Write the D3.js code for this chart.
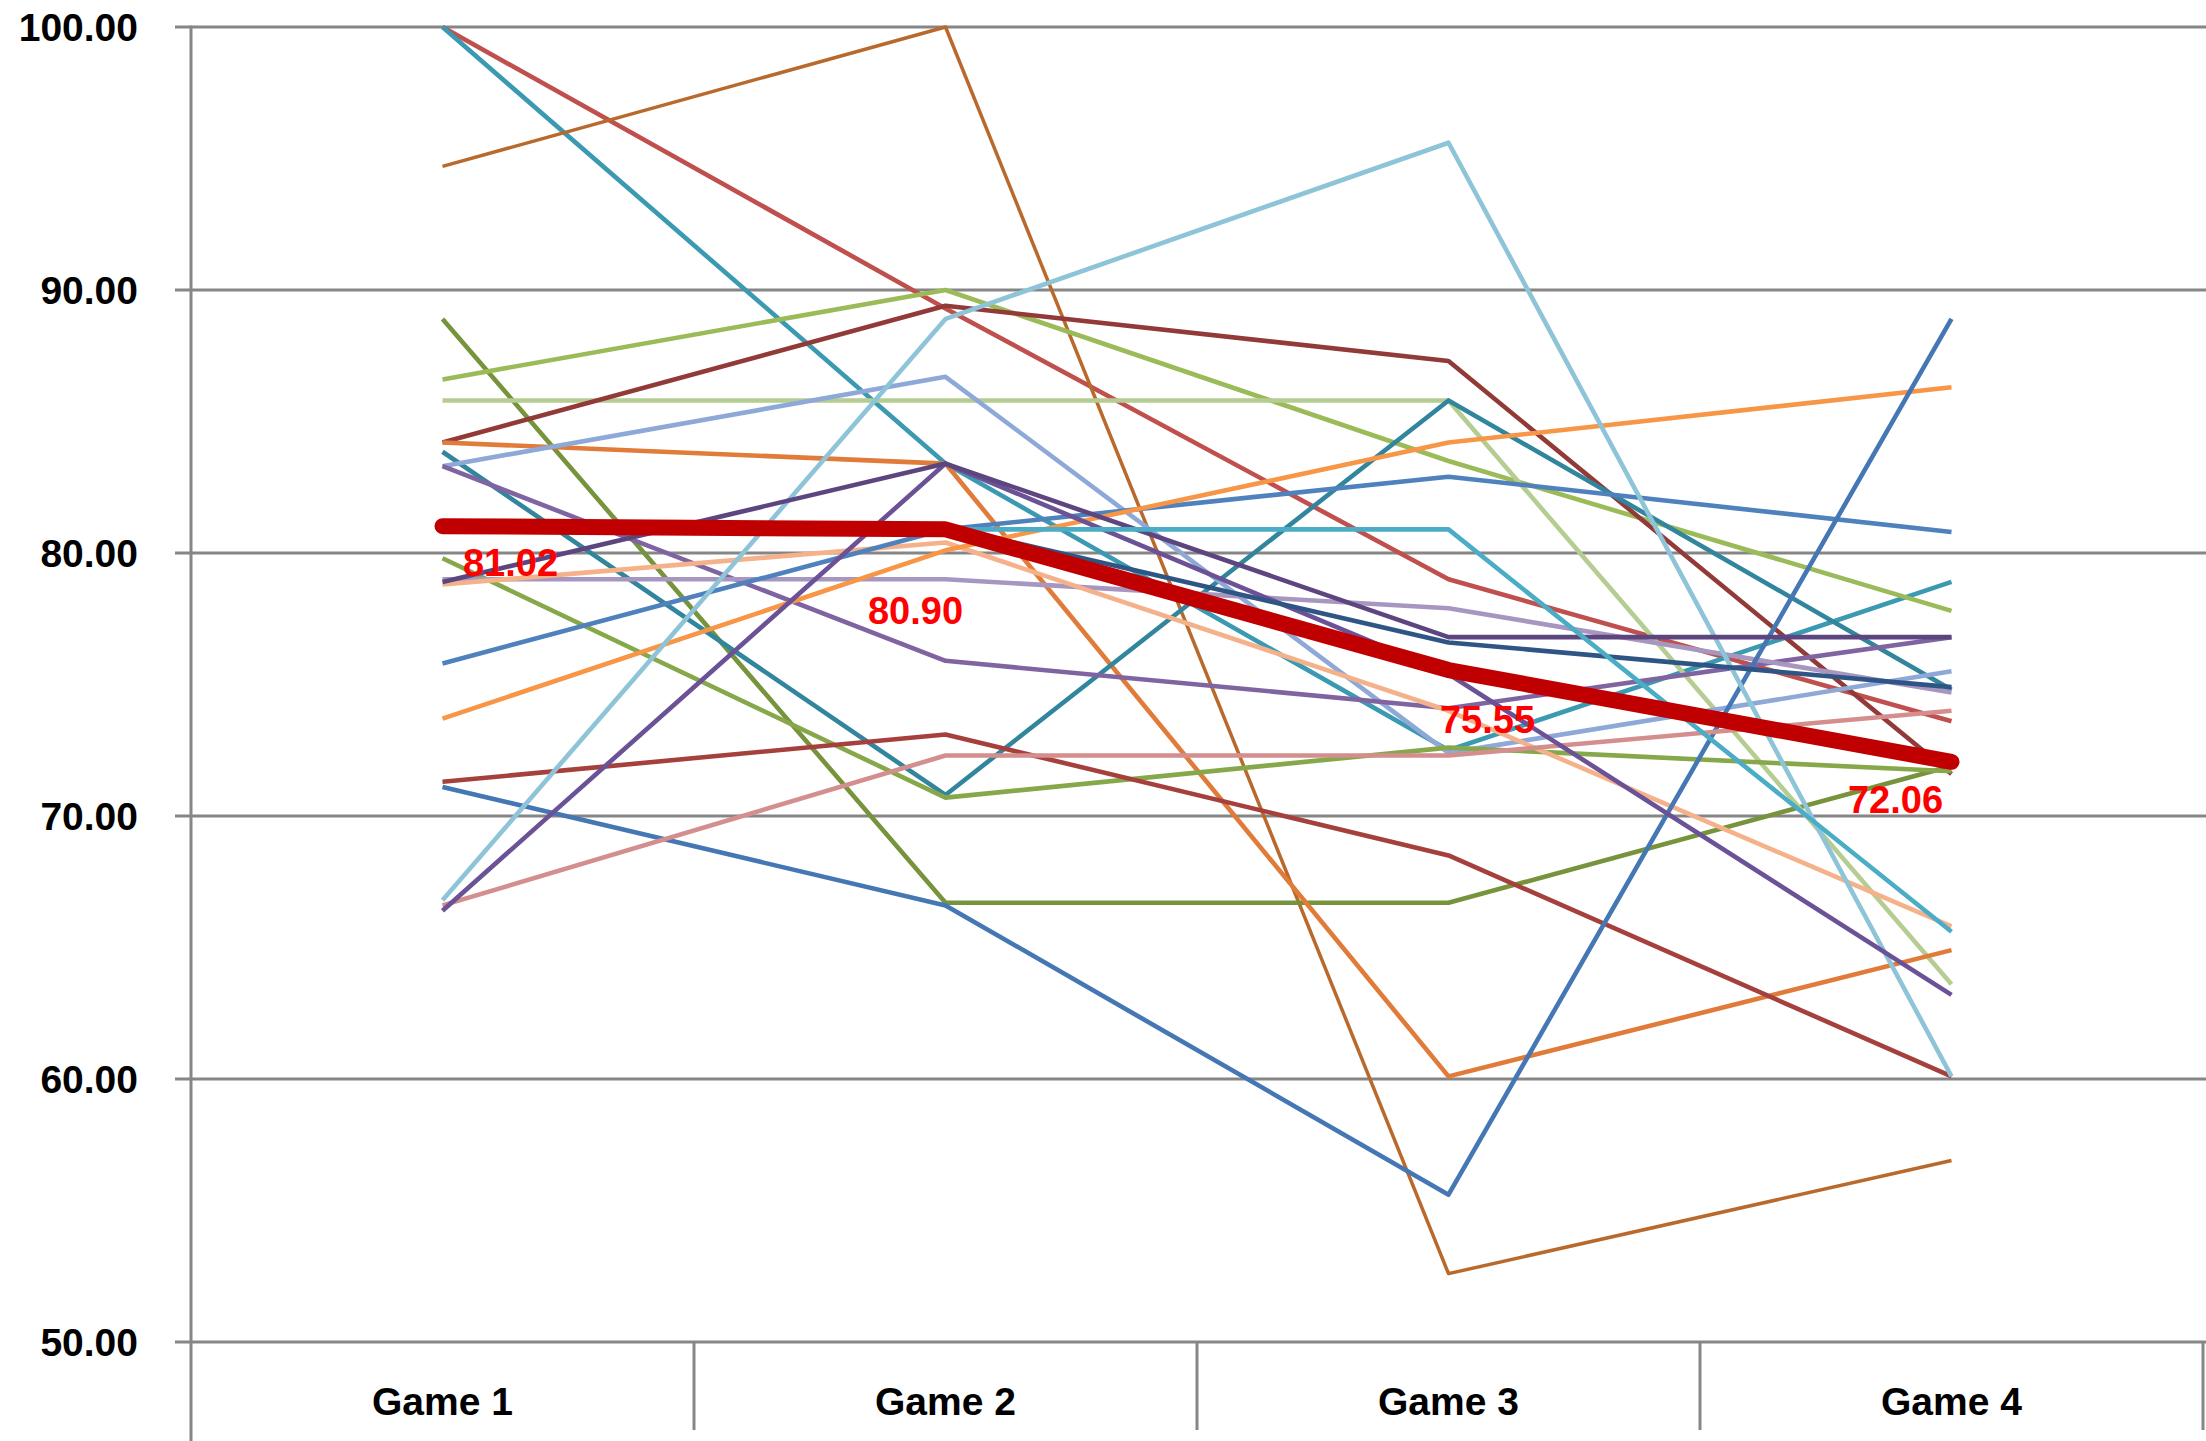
<!DOCTYPE html>
<html>
<head>
<meta charset="utf-8">
<script src="https://cdn.jsdelivr.net/npm/d3@7/dist/d3.min.js"></script>
<style>
  html, body { margin: 0; padding: 0; background: #ffffff; }
  svg { display: block; }
</style>
</head>
<body>
<svg id="chart" width="2206" height="1441"></svg>
<script>
// Categories and axis ticks
const games = ["Game 1", "Game 2", "Game 3", "Game 4"];
const yTicks = [50, 60, 70, 80, 90, 100];

// Individual score series (Game 1 .. Game 4)
const playerScores = [
  [100.0, 89.3, 79.0, 73.6],
  [100.0, 83.4, 72.5, 78.9],
  [94.7, 100.0, 52.6, 56.9],
  [88.9, 66.7, 66.7, 71.9],
  [86.6, 90.0, 83.5, 77.8],
  [85.8, 85.8, 85.8, 63.6],
  [84.2, 89.4, 87.3, 71.6],
  [84.2, 83.4, 60.1, 64.9],
  [83.85, 70.8, 85.8, 74.8],
  [83.3, 86.7, 72.4, 75.5],
  [83.3, 75.9, 74.1, 76.8],
  [79.8, 70.7, 72.6, 71.7],
  [79.0, 79.0, 77.9, 74.7],
  [78.8, 80.4, 74.0, 65.8],
  [75.8, 80.9, 82.9, 80.8],
  [73.7, 80.1, 84.2, 86.3],
  [71.3, 73.1, 68.5, 60.1],
  [71.1, 66.6, 55.6, 88.9],
  [66.8, 88.9, 95.6, 60.1],
  [66.6, 72.3, 72.3, 74.0],
  [66.4, 83.4, 75.4, 63.2],
  [78.9, 83.4, 76.8, 76.8],
  [81.1, 81.0, 76.6, 74.9],
  [81.0, 80.9, 80.9, 65.6]
];

// Class average
const averageScores = [81.02, 80.90, 75.55, 72.06];

const seriesColors = [
  "#C0504D", "#3B9AB2", "#B8692B", "#77933C", "#9BBB59", "#B5CD91",
  "#923A38", "#E07B39", "#31859C", "#8EA9D8", "#8064A2", "#86A84A",
  "#A796C0", "#F5B28A", "#4F81BD", "#F79646", "#A5403D", "#4677B5",
  "#8EC4D8", "#D48E8D", "#6B5196", "#5D4680", "#2F5585", "#4BACC6"
];
const seriesWidths = playerScores.map((d, i) => i === 2 ? 3.5 : 4.6);

const svg = d3.select("#chart");
const W = 2206, H = 1441;
const plot = { left: 191, right: 2203, top: 27, bottom: 1342 };

const x = d3.scaleBand().domain(games).range([plot.left, plot.right]).padding(0);
const y = d3.scaleLinear().domain([50, 100]).range([plot.bottom, plot.top]);
const cx = g => x(g) + x.bandwidth() / 2;

const grid = "#868686";
const font = "'Liberation Sans', Arial, sans-serif";

// Horizontal gridlines with short outward ticks
svg.append("g").selectAll("line").data(yTicks).join("line")
  .attr("x1", 175).attr("x2", W)
  .attr("y1", d => y(d)).attr("y2", d => y(d))
  .attr("stroke", grid).attr("stroke-width", 3);

// Vertical value axis
svg.append("line")
  .attr("x1", plot.left).attr("x2", plot.left)
  .attr("y1", plot.top - 1.5).attr("y2", H)
  .attr("stroke", grid).attr("stroke-width", 3);

// Category separators below the axis
const bounds = games.slice(1).map(g => x(g)).concat([plot.right]);
svg.append("g").selectAll("line").data(bounds).join("line")
  .attr("x1", d => d).attr("x2", d => d)
  .attr("y1", plot.bottom).attr("y2", 1430)
  .attr("stroke", grid).attr("stroke-width", 3);

// Value axis labels
svg.append("g").selectAll("text").data(yTicks).join("text")
  .attr("x", 138).attr("y", d => y(d))
  .attr("text-anchor", "end").attr("dominant-baseline", "central")
  .attr("font-family", font)
  .attr("font-weight", "bold").attr("font-size", 39)
  .attr("fill", "#000")
  .text(d => d3.format(".2f")(d));

// Category labels
svg.append("g").selectAll("text").data(games).join("text")
  .attr("x", d => cx(d)).attr("y", 1401)
  .attr("text-anchor", "middle").attr("dominant-baseline", "central")
  .attr("font-family", font)
  .attr("font-weight", "bold").attr("font-size", 39)
  .attr("fill", "#000")
  .text(d => d);

const line = d3.line()
  .x((d, i) => cx(games[i]))
  .y(d => y(d));

// Individual series
svg.append("g").selectAll("path").data(playerScores).join("path")
  .attr("d", d => line(d))
  .attr("fill", "none")
  .attr("stroke", (d, i) => seriesColors[i])
  .attr("stroke-width", (d, i) => seriesWidths[i])
  .attr("stroke-linejoin", "round");

// Average series
svg.append("path")
  .attr("d", line(averageScores))
  .attr("fill", "none")
  .attr("stroke", "#C00000")
  .attr("stroke-width", 16)
  .attr("stroke-linejoin", "round")
  .attr("stroke-linecap", "round");

// Average value labels, nudged off the line
const labelNudge = [[68, 37], [-30, 82], [39, 50], [-56, 38]];
svg.append("g").selectAll("text").data(averageScores).join("text")
  .attr("x", (d, i) => cx(games[i]) + labelNudge[i][0])
  .attr("y", (d, i) => y(d) + labelNudge[i][1])
  .attr("text-anchor", "middle").attr("dominant-baseline", "central")
  .attr("font-family", font)
  .attr("font-weight", "bold").attr("font-size", 38)
  .attr("fill", "#FF0000")
  .text(d => d3.format(".2f")(d));
</script>
</body>
</html>
